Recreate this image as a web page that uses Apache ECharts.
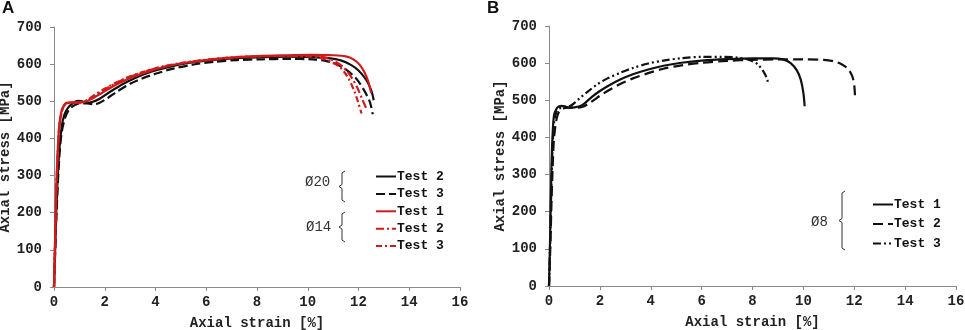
<!DOCTYPE html>
<html>
<head>
<meta charset="utf-8">
<script src="https://cdn.jsdelivr.net/npm/echarts@6/dist/echarts.min.js"></script>
<style>
  html, body { margin: 0; padding: 0; background: #fff; }
  #chart { width: 965px; height: 330px; }
</style>
</head>
<body>
<div id="chart"></div>
<script>
// axis ticks
var strainTicks = [0, 2, 4, 6, 8, 10, 12, 14, 16];
var stressTicks = [0, 100, 200, 300, 400, 500, 600, 700];

// panel A, diameter 20 mm
var a20t2Strain = [0, 0.05, 0.1, 0.2, 0.3, 0.4, 0.55, 0.75, 0.95, 1.1, 1.3, 1.5, 1.8, 2.2, 2.7, 3.2, 3.8, 4.5, 5.3, 6.2, 7.2, 8.2, 9.2, 10.2, 10.8, 11.3, 11.7, 12.0, 12.3, 12.5, 12.6];
var a20t2Stress = [0, 110, 220, 360, 430, 462, 482, 495, 501, 500, 496, 498, 507, 525, 546, 563, 579, 592, 603, 611, 616, 619, 620, 619, 616, 610, 598, 583, 558, 530, 503];
var a20t3Strain = [0, 0.05, 0.1, 0.2, 0.3, 0.45, 0.6, 0.8, 1.0, 1.3, 1.6, 1.8, 2.1, 2.5, 3.0, 3.5, 4.0, 4.7, 5.5, 6.3, 7.2, 8.2, 9.2, 10.2, 10.7, 11.1, 11.5, 11.9, 12.2, 12.45, 12.56];
var a20t3Stress = [0, 100, 200, 340, 415, 458, 478, 489, 494, 494, 492, 496, 508, 527, 547, 562, 574, 588, 599, 606, 611, 613, 614, 613, 609, 601, 586, 562, 532, 498, 465];

// panel A, diameter 14 mm
var a14t1Strain = [0, 0.05, 0.1, 0.2, 0.3, 0.4, 0.5, 0.65, 0.9, 1.2, 1.5, 1.8, 2.2, 2.7, 3.2, 3.8, 4.5, 5.3, 6.2, 7.2, 8.2, 9.2, 10.2, 11.0, 11.5, 11.8, 12.05, 12.25, 12.4, 12.5];
var a14t1Stress = [0, 150, 290, 430, 475, 490, 496, 497, 497, 498, 507, 519, 535, 553, 568, 582, 595, 605, 613, 619, 622, 624, 625, 624, 621, 613, 598, 576, 550, 522];
var a14t2Strain = [0, 0.05, 0.1, 0.2, 0.3, 0.4, 0.5, 0.7, 1.0, 1.3, 1.6, 2.0, 2.5, 3.0, 3.6, 4.3, 5.1, 6.0, 7.0, 8.0, 9.0, 10.0, 10.6, 11.0, 11.4, 11.7, 11.95, 12.15, 12.3];
var a14t2Stress = [0, 140, 270, 420, 470, 488, 494, 496, 497, 502, 515, 532, 551, 566, 580, 593, 603, 611, 617, 621, 622, 622, 619, 610, 592, 567, 537, 505, 482];
var a14t3Strain = [0, 0.05, 0.1, 0.2, 0.3, 0.4, 0.5, 0.7, 1.0, 1.3, 1.6, 2.0, 2.5, 3.0, 3.6, 4.3, 5.1, 6.0, 7.0, 8.0, 9.0, 10.0, 10.5, 10.9, 11.3, 11.6, 11.85, 12.0, 12.12];
var a14t3Stress = [0, 145, 280, 425, 472, 489, 495, 496, 496, 503, 517, 534, 552, 567, 581, 594, 604, 612, 618, 621, 622, 621, 617, 607, 590, 562, 525, 494, 467];

// panel B, diameter 8 mm
var b8t1Strain = [0, 0.05, 0.1, 0.15, 0.2, 0.3, 0.4, 0.5, 0.65, 0.8, 1.0, 1.2, 1.4, 1.7, 2.0, 2.3, 2.8, 3.3, 3.9, 4.5, 5.2, 6.0, 7.0, 8.0, 8.8, 9.2, 9.5, 9.75, 9.9, 10.0, 10.05];
var b8t1Stress = [0, 150, 330, 420, 460, 478, 484, 485, 483, 480, 481, 484, 492, 510, 525, 538, 556, 570, 583, 593, 601, 607, 611, 613, 613, 610, 600, 580, 555, 520, 484];
var b8t2Strain = [0, 0.05, 0.1, 0.15, 0.2, 0.3, 0.4, 0.55, 0.8, 1.0, 1.3, 1.6, 2.0, 2.3, 2.8, 3.3, 3.9, 4.5, 5.2, 6.0, 7.0, 8.0, 9.0, 10.0, 10.8, 11.2, 11.5, 11.75, 11.92, 12.0, 12.03];
var b8t2Stress = [0, 100, 230, 330, 400, 450, 470, 478, 480, 480, 482, 493, 512, 525, 544, 559, 573, 585, 594, 601, 606, 609, 610, 610, 609, 605, 597, 585, 565, 540, 510];
var b8t3Strain = [0, 0.05, 0.1, 0.15, 0.2, 0.3, 0.4, 0.55, 0.75, 0.95, 1.2, 1.5, 1.9, 2.3, 2.8, 3.3, 3.9, 4.5, 5.2, 6.0, 6.8, 7.4, 7.9, 8.2, 8.45, 8.58, 8.62];
var b8t3Stress = [0, 130, 290, 390, 440, 470, 478, 480, 482, 490, 505, 522, 543, 559, 574, 587, 599, 607, 613, 617, 617, 615, 608, 597, 575, 556, 543];

function zip(xs, ys) {
  return xs.map(function (x, i) { return [x, ys[i]]; });
}

var mono = "'Liberation Mono', 'DejaVu Sans Mono', monospace";

function xAxisFor(idx) {
  return {
    type: 'value', gridIndex: idx,
    min: strainTicks[0], max: strainTicks[strainTicks.length - 1], interval: 2,
    name: 'Axial strain [%]', nameLocation: 'middle', nameGap: 29,
    nameTextStyle: { fontFamily: mono, fontWeight: 'bold', fontSize: 14, color: '#222' },
    axisLine: { lineStyle: { color: '#8a8a8a', width: 1 } },
    axisTick: { show: true, length: 4, lineStyle: { color: '#8a8a8a' } },
    axisLabel: { fontFamily: mono, fontWeight: 'bold', fontSize: 14, color: '#222', margin: 8 },
    splitLine: { show: false }
  };
}

function yAxisFor(idx) {
  return {
    type: 'value', gridIndex: idx,
    min: stressTicks[0], max: stressTicks[stressTicks.length - 1], interval: 100,
    name: 'Axial stress [MPa]', nameLocation: 'middle', nameGap: 41, nameRotate: 90,
    nameTextStyle: { fontFamily: mono, fontWeight: 'bold', fontSize: 14, color: '#222' },
    axisLine: { show: true, lineStyle: { color: '#8a8a8a', width: 1 } },
    axisTick: { show: true, length: 4, lineStyle: { color: '#8a8a8a' } },
    axisLabel: { fontFamily: mono, fontWeight: 'bold', fontSize: 14, color: '#222', margin: 12 },
    splitLine: { show: false }
  };
}

function curve(name, idx, xs, ys, color, type) {
  return {
    name: name, type: 'line', xAxisIndex: idx, yAxisIndex: idx,
    data: zip(xs, ys), showSymbol: false, symbol: 'none',
    smooth: 0.3, animation: false,
    lineStyle: { color: color, width: 2.2, type: type },
    itemStyle: { color: color }
  };
}

function bracket(x, y1, y2) {
  var ym = (y1 + y2) / 2;
  return {
    type: 'polyline',
    shape: { points: [[x + 3, y1], [x, y1 + 2], [x, ym - 2], [x - 3, ym], [x, ym + 2], [x, y2 - 2], [x + 3, y2]] },
    style: { stroke: '#333', lineWidth: 1, fill: null }
  };
}

var RED = '#d11a1a';
var BLACK = '#111';
var dashDot = [8, 3, 2, 3];

var legendBase = {
  orient: 'vertical', itemWidth: 20, itemHeight: 12, padding: 0,
  itemStyle: { color: 'rgba(0,0,0,0)', borderColor: 'rgba(0,0,0,0)', borderWidth: 0 },
  formatter: function (n) { return n.split(' ').slice(1).join(' '); },
  textStyle: { fontFamily: mono, fontWeight: 'bold', fontSize: 13, color: '#111', padding: [0, 0, 0, -4] }
};

var chart = echarts.init(document.getElementById('chart'), null, { renderer: 'canvas' });

chart.setOption({
  backgroundColor: '#fff',
  animation: false,
  grid: [
    { left: 54, top: 27, width: 406, height: 260, containLabel: false, outerBoundsMode: 'none' },
    { left: 549, top: 26, width: 407, height: 260, containLabel: false, outerBoundsMode: 'none' }
  ],
  xAxis: [xAxisFor(0), xAxisFor(1)],
  yAxis: [yAxisFor(0), yAxisFor(1)],
  legend: [
    Object.assign({}, legendBase, {
      data: ['Ø20 Test 2', 'Ø20 Test 3', 'Ø14 Test 1', 'Ø14 Test 2', 'Ø14 Test 3'],
      left: 375, top: 170, itemGap: 4.4
    }),
    Object.assign({}, legendBase, {
      data: ['Ø8 Test 1', 'Ø8 Test 2', 'Ø8 Test 3'],
      left: 872, top: 198, itemGap: 6.5
    })
  ],
  graphic: [
    { type: 'text', left: 2, top: 0, style: { text: 'A', font: 'bold 17px "Liberation Sans", Arial, sans-serif', fill: '#111' } },
    { type: 'text', left: 487, top: 0, style: { text: 'B', font: 'bold 17px "Liberation Sans", Arial, sans-serif', fill: '#111' } },
    { type: 'text', left: 305, top: 175, style: { text: 'Ø20', font: '14px ' + mono, fill: '#333' } },
    { type: 'text', left: 306, top: 220, style: { text: 'Ø14', font: '14px ' + mono, fill: '#333' } },
    { type: 'text', left: 811, top: 215, style: { text: 'Ø8', font: '14px ' + mono, fill: '#333' } },
    bracket(342, 171, 202),
    bracket(342, 212, 242),
    bracket(842, 191, 250)
  ],
  series: [
    curve('Ø20 Test 2', 0, a20t2Strain, a20t2Stress, BLACK, 'solid'),
    curve('Ø20 Test 3', 0, a20t3Strain, a20t3Stress, BLACK, [9, 4]),
    curve('Ø14 Test 1', 0, a14t1Strain, a14t1Stress, RED, 'solid'),
    curve('Ø14 Test 2', 0, a14t2Strain, a14t2Stress, RED, dashDot),
    curve('Ø14 Test 3', 0, a14t3Strain, a14t3Stress, RED, [6, 3, 2, 3]),
    curve('Ø8 Test 1', 1, b8t1Strain, b8t1Stress, BLACK, 'solid'),
    curve('Ø8 Test 2', 1, b8t2Strain, b8t2Stress, BLACK, [10, 5]),
    curve('Ø8 Test 3', 1, b8t3Strain, b8t3Stress, BLACK, [8, 3, 2, 3, 2, 3])
  ]
});
</script>
</body>
</html>
